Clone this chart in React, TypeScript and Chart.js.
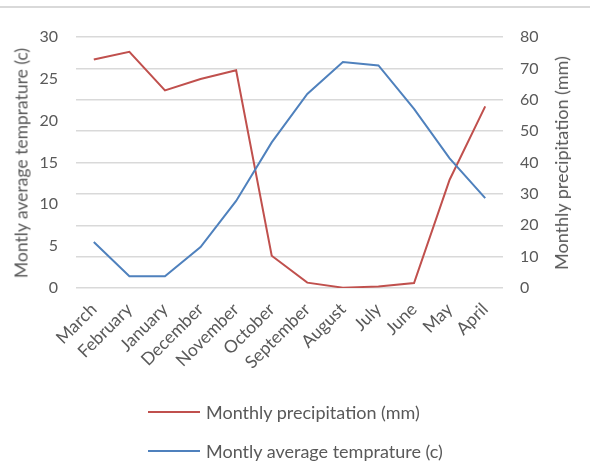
import React, { useEffect, useRef } from "react";
import { Chart, registerables } from "chart.js";

Chart.register(...registerables);

const categories = [
  "March", "February", "January", "December", "November", "October",
  "September", "August", "July", "June", "May", "April",
];
const precipitation = [72.8, 75.3, 63.0, 66.6, 69.4, 10.3, 1.7, 0.1, 0.5, 1.6, 34.5, 57.9];
const temperature = [5.5, 1.4, 1.4, 4.9, 10.4, 17.4, 23.2, 27.0, 26.6, 21.4, 15.5, 10.75];
const precipLabel = "Monthly precipitation (mm)";
const tempLabel = "Montly average temprature (c)";

const FONT = "Lato, 'Noto Sans', sans-serif";
const TEXT = "#595959";
const RED = "#c0504d";
const BLUE = "#4f81bd";

export default function App() {
  const ref = useRef<HTMLCanvasElement | null>(null);

  useEffect(() => {
    document.body.style.margin = "0";
    const canvas = ref.current;
    if (!canvas) return;
    const chart = new Chart(canvas, {
      type: "line",
      data: {
        labels: categories,
        datasets: [
          {
            label: precipLabel,
            data: precipitation,
            yAxisID: "y1",
            borderColor: RED,
            backgroundColor: RED,
            borderWidth: 2,
            pointRadius: 0,
            tension: 0,
            order: 1,
          },
          {
            label: tempLabel,
            data: temperature,
            yAxisID: "y",
            borderColor: BLUE,
            backgroundColor: BLUE,
            borderWidth: 2,
            pointRadius: 0,
            tension: 0,
            order: 0,
          },
        ],
      },
      options: {
        animation: false,
        responsive: false,
        maintainAspectRatio: false,
        layout: { padding: { top: 37, left: 0, right: 0, bottom: 0 } },
        plugins: { legend: { display: false }, tooltip: { enabled: false } },
        scales: {
          x: {
            type: "category",
            offset: true,
            grid: { display: false, drawTicks: false },
            border: { display: false },
            ticks: {
              autoSkip: false,
              maxRotation: 45,
              minRotation: 45,
              padding: 11,
              color: TEXT,
              font: { family: FONT, size: 17.5 },
            },
            afterFit: (s: any) => { s.height = 474 - 37 - 251; },
          },
          y: {
            position: "left",
            min: 0,
            max: 30,
            grid: { display: false, drawTicks: false },
            border: { display: false },
            ticks: {
              stepSize: 5,
              padding: 18,
              color: TEXT,
              font: { family: FONT, size: 16 },
            },
            afterFit: (s: any) => { s.width = 76; },
          },
          y1: {
            position: "right",
            min: 0,
            max: 80,
            grid: { display: true, drawTicks: false, color: "#d9d9d9", lineWidth: 1.5 },
            border: { display: false },
            ticks: {
              stepSize: 10,
              padding: 17,
              color: TEXT,
              font: { family: FONT, size: 16 },
            },
            afterFit: (s: any) => { s.width = 87; },
          },
        },
      },
    });
    return () => chart.destroy();
  }, []);

  const legendRow = (color: string, text: string, top: number) => (
    <div style={{ position: "absolute", left: 148, top: top - 12, height: 24, display: "flex", alignItems: "center" }}>
      <div style={{ width: 52, height: 2, background: color }} />
      <span style={{ marginLeft: 6, fontFamily: FONT, fontSize: 18, color: TEXT, whiteSpace: "nowrap", lineHeight: "24px" }}>{text}</span>
    </div>
  );

  return (
    <div style={{ position: "absolute", left: 0, top: 0, width: 590, height: 474, background: "#fff", overflow: "hidden" }}>
      <div style={{ position: "absolute", left: 0, top: 6, width: 590, height: 2, background: "#d9d9d9" }} />
      <canvas ref={ref} width={590} height={474} style={{ position: "absolute", left: 0, top: 0 }} />
      <div
        style={{
          position: "absolute", left: 21, top: 163, transform: "translate(-50%, -50%) rotate(-90deg)",
          fontFamily: FONT, fontSize: 17.5, color: TEXT, whiteSpace: "nowrap",
        }}
      >
        {tempLabel}
      </div>
      <div
        style={{
          position: "absolute", left: 561, top: 163, transform: "translate(-50%, -50%) rotate(-90deg)",
          fontFamily: FONT, fontSize: 18, color: TEXT, whiteSpace: "nowrap",
        }}
      >
        {precipLabel}
      </div>
      {legendRow(RED, precipLabel, 412)}
      {legendRow(BLUE, tempLabel, 451)}
    </div>
  );
}
